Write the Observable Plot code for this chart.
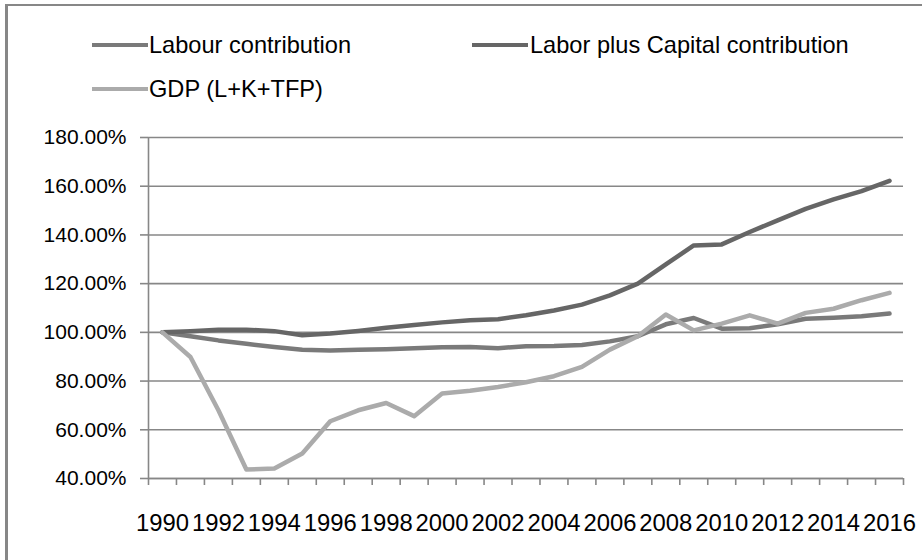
<!DOCTYPE html>
<html>
<head>
<meta charset="utf-8">
<script src="https://cdn.jsdelivr.net/npm/d3@7"></script>
<script src="https://cdn.jsdelivr.net/npm/@observablehq/plot@0.6"></script>
<style>
  html, body { margin: 0; padding: 0; background: #fff; }
  #wrap { position: relative; width: 922px; height: 560px; overflow: hidden; background: #fff;
          font-family: "Liberation Sans", Arial, sans-serif; }
  #frame { position: absolute; left: 5px; top: 4px; width: 1000px; height: 1000px;
           border-left: 3px solid #878787; border-top: 2px solid #878787; }
  .sw { position: absolute; height: 4px; width: 56px; }
  .lt { position: absolute; font-size: 23.6px; line-height: 24px; color: #000; white-space: nowrap; }
  #chart { position: absolute; left: 0; top: 110px; }
</style>
</head>
<body>
<div id="wrap">
  <div id="frame"></div>
  <div id="legend"></div>
  <div id="chart"></div>
</div>
<script>
// ---- data ----
const years = [1990, 1991, 1992, 1993, 1994, 1995, 1996, 1997, 1998, 1999, 2000, 2001, 2002, 2003,
               2004, 2005, 2006, 2007, 2008, 2009, 2010, 2011, 2012, 2013, 2014, 2015, 2016];
const labourContribution = [100, 98.4, 96.7, 95.3, 94.0, 92.9, 92.6, 92.9, 93.1, 93.5, 93.9, 94.0, 93.5, 94.3,
                            94.4, 94.8, 96.3, 98.4, 103.3, 105.9, 101.5, 101.7, 103.3, 105.6, 106.0, 106.6, 107.7];
const laborPlusCapital = [100, 100.5, 101.1, 101.1, 100.5, 98.8, 99.5, 100.6, 101.9, 103.0, 104.1, 105.0, 105.4, 107.0,
                          109.0, 111.4, 115.2, 120.0, 127.9, 135.7, 136.1, 141.2, 146.0, 150.7, 154.6, 158.0, 162.2];
const gdpLKTFP = [100, 89.9, 68.0, 43.7, 44.1, 50.3, 63.5, 68.0, 71.0, 65.6, 74.9, 76.0, 77.6, 79.5,
                  82.0, 85.8, 92.9, 98.4, 107.3, 100.8, 103.6, 107.0, 103.6, 108.0, 109.7, 113.2, 116.2];
const seriesNames = ["Labour contribution", "Labor plus Capital contribution", "GDP (L+K+TFP)"];
const seriesColors = ["#7a7a7a", "#666666", "#ababab"];
const yTicks = [40, 60, 80, 100, 120, 140, 160, 180];
const xTickLabels = [1990, 1992, 1994, 1996, 1998, 2000, 2002, 2004, 2006, 2008, 2010, 2012, 2014, 2016];

// ---- build table ----
const seriesValues = [labourContribution, laborPlusCapital, gdpLKTFP];
const rows = seriesNames.flatMap((name, i) =>
  years.map((yr, j) => ({series: name, year: yr, value: seriesValues[i][j]})));
const boundaries = [years[0] - 0.5, ...years.map(y => y + 0.5)];
const gridColor = "#878787";

// ---- legend (HTML) ----
const legend = document.getElementById("legend");
const legendPos = [
  {sx: 92, tx: 149, cy: 45},
  {sx: 472, tx: 530, cy: 45},
  {sx: 92, tx: 149, cy: 89}
];
seriesNames.forEach((name, i) => {
  const p = legendPos[i];
  const sw = document.createElement("div");
  sw.className = "sw";
  sw.style.left = p.sx + "px";
  sw.style.top = (p.cy - 2) + "px";
  sw.style.background = seriesColors[i];
  legend.appendChild(sw);
  const t = document.createElement("div");
  t.className = "lt";
  t.style.left = p.tx + "px";
  t.style.top = (p.cy - 12) + "px";
  t.textContent = name;
  legend.appendChild(t);
});

// ---- chart ----
const chart = Plot.plot({
  width: 922,
  height: 450,
  marginTop: 27,
  marginBottom: 82,
  marginLeft: 148,
  marginRight: 19,
  style: {fontFamily: "'Liberation Sans', Arial, sans-serif", background: "transparent", overflow: "visible"},
  x: {type: "linear", domain: [years[0] - 0.5, years[years.length - 1] + 0.5], label: null},
  y: {domain: [40, 180], label: null},
  marks: [
    Plot.gridY(yTicks, {stroke: gridColor, strokeOpacity: 1, strokeWidth: 1.6}),
    Plot.axisY(yTicks, {tickSize: 8, tickPadding: 14, tickFormat: d => d.toFixed(2) + "%",
                        fontSize: 21, stroke: gridColor, strokeWidth: 1.6, fill: "#000"}),
    Plot.axisX(boundaries, {tickSize: 7, tickFormat: () => "", stroke: gridColor, strokeWidth: 1.6}),
    Plot.axisX(xTickLabels, {tickSize: 0, tickPadding: 35, tickFormat: d => String(d),
                             fontSize: 24, fill: "#000"}),
    Plot.ruleY([40], {stroke: gridColor, strokeWidth: 1.6}),
    Plot.ruleX([years[0] - 0.5], {stroke: gridColor, strokeWidth: 1.6}),
    ...seriesNames.map((name, i) =>
      Plot.line(rows.filter(r => r.series === name), {
        x: "year", y: "value", stroke: seriesColors[i], strokeWidth: 4.5,
        strokeLinejoin: "round", strokeLinecap: "round"
      }))
  ]
});
document.getElementById("chart").appendChild(chart);

// slightly condense x tick labels to match the reference's narrow face
d3.select(chart).selectAll('g[aria-label="x-axis tick label"] text')
  .filter(function() { return this.textContent.length > 0; })
  .attr("textLength", 53)
  .attr("lengthAdjust", "spacingAndGlyphs");
</script>
</body>
</html>
